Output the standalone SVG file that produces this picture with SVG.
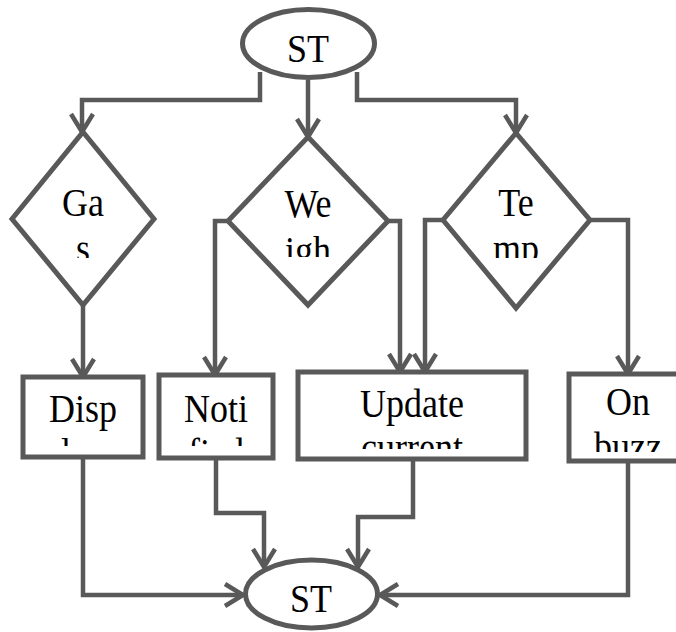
<svg xmlns="http://www.w3.org/2000/svg" width="676" height="632" viewBox="0 0 676 632">
  <style>
    .shape { fill: #ffffff; stroke: #595959; stroke-width: 5; }
    .wire { fill: none; stroke: #595959; stroke-width: 4.5; stroke-linejoin: miter; marker-end: url(#chev); }
    .lbl { font-family: "Liberation Serif", "Times New Roman", serif; font-size: 36px; fill: #000000; text-anchor: middle; }
  </style>
  <defs>
    <marker id="chev" markerUnits="userSpaceOnUse" markerWidth="30" markerHeight="30" viewBox="-22 -15 26 30" refX="0" refY="0" orient="auto">
      <path d="M -18 -11 L 0 0 L -18 11" fill="none" stroke="#595959" stroke-width="4.5" stroke-linejoin="miter"/>
    </marker>
    <!-- text boxes: second line of each label is cut at the box edge -->
    <clipPath id="cGas"><rect x="0" y="150" width="170" height="108"/></clipPath>
    <clipPath id="cWeigh"><rect x="220" y="150" width="180" height="107"/></clipPath>
    <clipPath id="cTemp"><rect x="440" y="150" width="160" height="108"/></clipPath>
    <clipPath id="cDisp"><rect x="25" y="380" width="116" height="66"/></clipPath>
    <clipPath id="cNoti"><rect x="161" y="378" width="110" height="68"/></clipPath>
    <clipPath id="cUpd"><rect x="300" y="375" width="224" height="74"/></clipPath>
    <clipPath id="cOn"><rect x="572" y="377" width="110" height="75"/></clipPath>
  </defs>

  <g id="connectors">
    <!-- start to decisions -->
    <polyline class="wire" points="260,72 260,100 82,100 82,132"/>
    <polyline class="wire" points="308,80 308,137"/>
    <polyline class="wire" points="357,72 357,100 516,100 516,133"/>
    <!-- decisions to actions -->
    <polyline class="wire" points="83,305 83,377"/>
    <polyline class="wire" points="228,221 215,221 215,375"/>
    <polyline class="wire" points="388,221 400,221 400,372"/>
    <polyline class="wire" points="443,220 425,220 425,372"/>
    <polyline class="wire" points="590,220 628,220 628,374"/>
    <!-- actions to end -->
    <polyline class="wire" points="83,457 83,595 243,595"/>
    <polyline class="wire" points="216,458 216,513 264,513 264,567"/>
    <polyline class="wire" points="413,459 413,517 358,517 358,567"/>
    <polyline class="wire" points="628,461 628,595 380,595"/>
  </g>

  <!-- labels are set slightly tall: each text is stretched 1.12x vertically about its baseline -->
  <g id="start">
    <ellipse class="shape" cx="308.5" cy="43.5" rx="66" ry="34"/>
    <text class="lbl" transform="translate(308,62) scale(1,1.12)">ST</text>
  </g>

  <g id="gas">
    <polygon class="shape" points="83,132 154,219 83,305 12,219"/>
    <g clip-path="url(#cGas)">
      <text class="lbl" transform="translate(83,216) scale(1,1.12)">Ga</text>
      <text class="lbl" transform="translate(83,262) scale(1,1.12)">s</text>
    </g>
  </g>

  <g id="weigh">
    <polygon class="shape" points="308,137 388,221 308,305 228,221"/>
    <g clip-path="url(#cWeigh)">
      <text class="lbl" transform="translate(308,217) scale(1,1.12)">We</text>
      <text class="lbl" transform="translate(308,264) scale(1,1.12)">igh</text>
    </g>
  </g>

  <g id="temp">
    <polygon class="shape" points="516,133 590,220 516,308 443,220"/>
    <g clip-path="url(#cTemp)">
      <text class="lbl" transform="translate(516,216) scale(1,1.12)">Te</text>
      <text class="lbl" transform="translate(516,262) scale(1,1.12)">mp</text>
    </g>
  </g>

  <g id="display">
    <rect class="shape" x="23" y="377" width="120" height="80"/>
    <g clip-path="url(#cDisp)">
      <text class="lbl" transform="translate(83,422) scale(1,1.12)">Disp</text>
      <text class="lbl" transform="translate(83,466) scale(1,1.12)">lay</text>
    </g>
  </g>

  <g id="notify">
    <rect class="shape" x="159" y="375" width="114" height="83"/>
    <g clip-path="url(#cNoti)">
      <text class="lbl" transform="translate(216,422) scale(1,1.12)">Noti</text>
      <text class="lbl" transform="translate(216,466) scale(1,1.12)">fied</text>
    </g>
  </g>

  <g id="update">
    <rect class="shape" x="298" y="372" width="228" height="87"/>
    <g clip-path="url(#cUpd)">
      <text class="lbl" transform="translate(412,417) scale(1,1.12)">Update</text>
      <text class="lbl" transform="translate(412,461) scale(1,1.12)">current</text>
    </g>
  </g>

  <g id="buzzer">
    <rect class="shape" x="569" y="374" width="118" height="87"/>
    <g clip-path="url(#cOn)">
      <text class="lbl" transform="translate(628,415) scale(1,1.12)">On</text>
      <text class="lbl" transform="translate(628,460) scale(1,1.12)">buzz</text>
    </g>
  </g>

  <g id="end">
    <ellipse class="shape" cx="311.5" cy="594" rx="66" ry="34"/>
    <text class="lbl" transform="translate(311,612) scale(1,1.12)">ST</text>
  </g>
</svg>
